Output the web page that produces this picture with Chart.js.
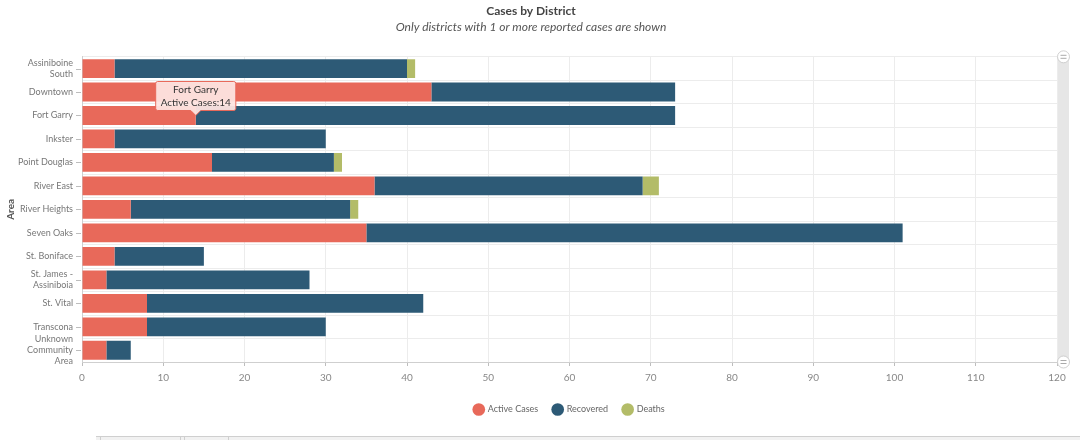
<!DOCTYPE html>
<html>
<head>
<meta charset="utf-8">
<script src="https://cdn.jsdelivr.net/npm/chart.js@4.4.1/dist/chart.umd.min.js"></script>
<style>
  html, body { margin: 0; padding: 0; background: #fff; }
  #wrap { position: relative; width: 1080px; height: 424px; }
  #foot { position: absolute; left: 0; top: 434px; width: 1080px; height: 6px; }
  #foot .bar { position: absolute; left: 96px; right: 0; top: 2px; height: 4px; border-top: 1px solid #cfcfcf; background: #f1f1f1; }
  #foot .sep { position: absolute; top: 2px; width: 1px; height: 4px; background: #cfcfcf; }
</style>
</head>
<body>
<div id="wrap"><canvas id="casesChart"></canvas></div>
<div id="foot"><div class="bar"></div><div class="sep" style="left:100px"></div><div class="sep" style="left:180px"></div><div class="sep" style="left:184px"></div><div class="sep" style="left:228px"></div></div>
<script>
// ── Data ──────────────────────────────────────────────────────────────────
const districts = [
  ['Assiniboine', 'South'], 'Downtown', 'Fort Garry', 'Inkster', 'Point Douglas',
  'River East', 'River Heights', 'Seven Oaks', 'St. Boniface',
  ['St. James -', 'Assiniboia'], 'St. Vital', 'Transcona',
  ['Unknown', 'Community', 'Area'],
];
const districtNames = ['Assiniboine South', 'Downtown', 'Fort Garry', 'Inkster', 'Point Douglas',
  'River East', 'River Heights', 'Seven Oaks', 'St. Boniface', 'St. James - Assiniboia',
  'St. Vital', 'Transcona', 'Unknown Community Area'];
const activeCases = [4, 43, 14, 4, 16, 36, 6, 35, 4, 3, 8, 8, 3];
const recovered   = [36, 30, 59, 26, 15, 33, 27, 66, 11, 25, 34, 22, 3];
const deaths      = [1, 0, 0, 0, 1, 2, 1, 0, 0, 0, 0, 0, 0];
const seriesNames = ['Active Cases', 'Recovered', 'Deaths'];

const COLORS = { active: '#e8695a', recovered: '#2d5a76', deaths: '#b3bc68' };
const FONT = 'Lato, "Open Sans", sans-serif';

// small tick marks at category centres (grid lines sit between categories)
const yTickMarks = {
  id: 'yTickMarks',
  afterDraw(chart) {
    const y = chart.scales.y, ctx = chart.ctx;
    ctx.save();
    ctx.strokeStyle = '#bdbdbd';
    ctx.lineWidth = 1;
    y.ticks.forEach((t, i) => {
      const py = Math.round(y.getPixelForTick(i)) + 0.5;
      ctx.beginPath();
      ctx.moveTo(y.right - 6, py);
      ctx.lineTo(y.right - 1, py);
      ctx.stroke();
    });
    ctx.restore();
  },
};

// zoom slider look-alike on the right side
const scrollBar = {
  id: 'scrollBar',
  afterDraw(chart) {
    const a = chart.chartArea, ctx = chart.ctx;
    const x0 = a.right + 1, w = 11, cx = x0 + w / 2;
    ctx.save();
    ctx.fillStyle = '#e6e6e6';
    ctx.fillRect(x0, a.top, w, a.bottom - a.top);
    [a.top, a.bottom].forEach(cy => {
      ctx.beginPath();
      ctx.arc(cx, cy, 6, 0, Math.PI * 2);
      ctx.fillStyle = '#fff';
      ctx.fill();
      ctx.strokeStyle = '#cfcfcf';
      ctx.stroke();
      ctx.beginPath();
      ctx.moveTo(cx - 3, cy - 1.5); ctx.lineTo(cx + 3, cy - 1.5);
      ctx.moveTo(cx - 3, cy + 1.5); ctx.lineTo(cx + 3, cy + 1.5);
      ctx.strokeStyle = '#aaa';
      ctx.stroke();
    });
    ctx.restore();
  },
};

const chart = new Chart(document.getElementById('casesChart'), {
  type: 'bar',
  data: {
    labels: districts,
    datasets: [
      { label: seriesNames[0], data: activeCases, backgroundColor: COLORS.active },
      { label: seriesNames[1], data: recovered,   backgroundColor: COLORS.recovered },
      { label: seriesNames[2], data: deaths,      backgroundColor: COLORS.deaths },
    ],
  },
  options: {
    indexAxis: 'y',
    responsive: true,
    maintainAspectRatio: false,
    animation: false,
    events: [],
    datasets: { bar: { categoryPercentage: 0.8, barPercentage: 1, borderWidth: 0 } },
    layout: { padding: { left: 5, right: 23, top: 0, bottom: 0 } },
    plugins: {
      title: {
        display: true,
        text: 'Cases by District',
        color: '#444',
        font: { family: FONT, size: 12, weight: 'bold' },
        padding: { top: 4, bottom: 2 },
      },
      subtitle: {
        display: true,
        text: 'Only districts with 1 or more reported cases are shown',
        color: '#555',
        font: { family: FONT, size: 12, style: 'italic' },
        padding: { top: 0, bottom: 22 },
      },
      legend: {
        position: 'bottom',
        fullSize: false,
        labels: {
          usePointStyle: true,
          pointStyle: 'circle',
          boxWidth: 9,
          boxHeight: 9,
          padding: 15,
          color: '#666',
          font: { family: FONT, size: 9 },
        },
      },
      tooltip: {
        enabled: true,
        yAlign: 'bottom',
        xAlign: 'center',
        caretSize: 5,
        caretPadding: 0,
        cornerRadius: 2,
        backgroundColor: 'rgba(253,228,224,0.95)',
        borderColor: COLORS.active,
        borderWidth: 1,
        titleColor: '#333',
        bodyColor: '#333',
        titleFont: { family: FONT, size: 10, weight: 'normal' },
        bodyFont: { family: FONT, size: 10 },
        titleAlign: 'center',
        bodyAlign: 'center',
        titleMarginBottom: 1,
        padding: { x: 5, y: 2 },
        displayColors: false,
        callbacks: {
          title: items => districtNames[items[0].dataIndex],
          label: item => item.dataset.label + ':' + item.raw,
        },
      },
    },
    scales: {
      x: {
        stacked: true,
        min: 0,
        max: 120,
        ticks: { stepSize: 10, color: '#888', padding: 6, font: { family: FONT, size: 10 } },
        grid: { color: '#ececec', tickLength: 4, tickColor: '#bdbdbd' },
        border: { color: '#cfcfcf' },
      },
      y: {
        stacked: true,
        afterFit: s => { s.width = 77; },
        title: {
          display: true,
          text: 'Area',
          color: '#555',
          font: { family: FONT, size: 10, weight: 'bold' },
          padding: 0,
        },
        ticks: { autoSkip: false, color: '#777', padding: 9, font: { family: FONT, size: 9, lineHeight: 1.2 } },
        grid: { color: '#ececec', offset: true, drawTicks: false },
        border: { color: '#cfcfcf' },
      },
    },
  },
  plugins: [yTickMarks, scrollBar],
});

// show the Fort Garry tooltip as in the reference
chart.tooltip.setActiveElements([{ datasetIndex: 0, index: 2 }], { x: 0, y: 0 });
chart.update();
</script>
</body>
</html>
